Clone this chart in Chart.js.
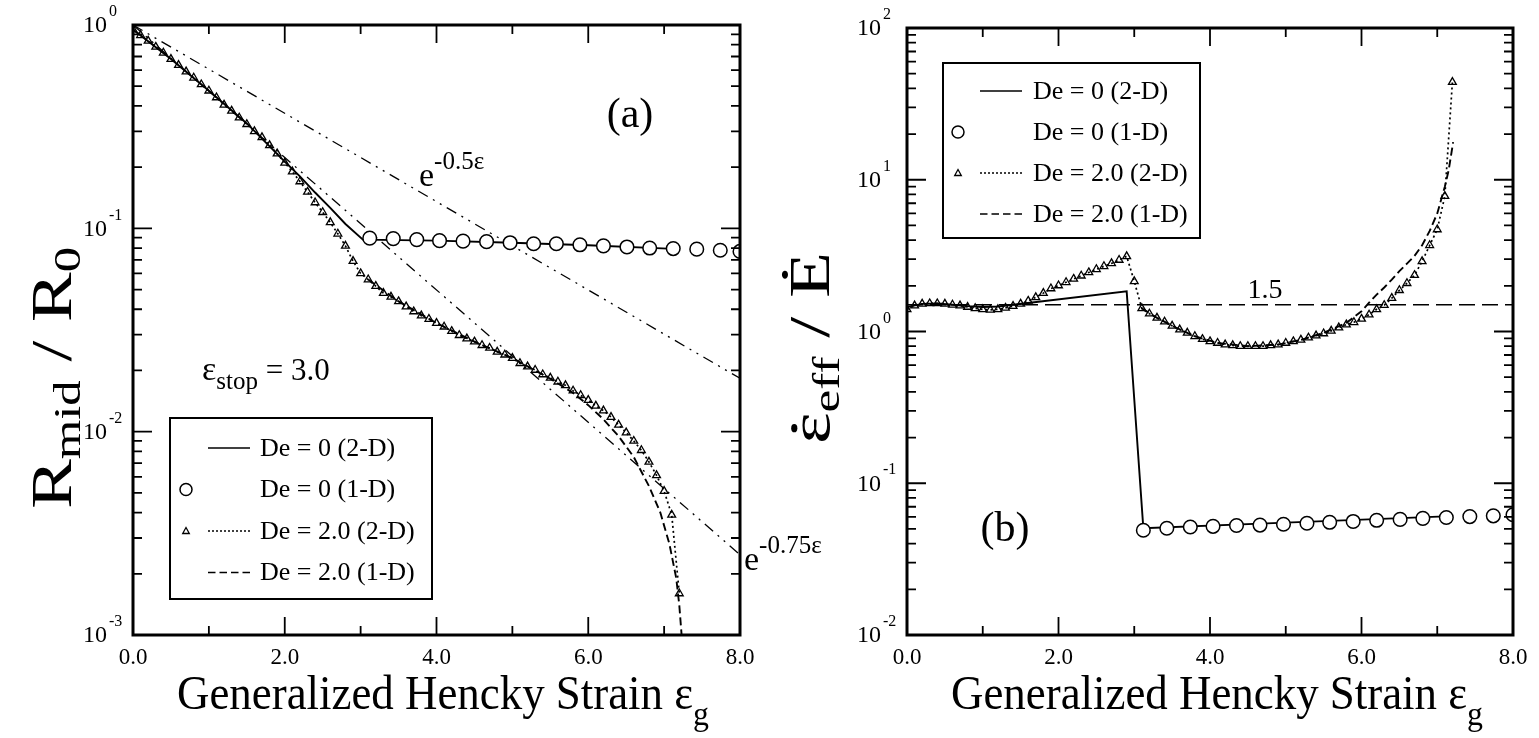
<!DOCTYPE html>
<html lang="en">
<head>
  <meta charset="UTF-8" />
  <title>Filament thinning: De = 0 and De = 2.0</title>
  <script src="https://cdn.jsdelivr.net/npm/chart.js"></script>
  <style>
    body { margin: 0; background: #fff; }
    .wrap { position: relative; width: 1539px; height: 738px; }
    canvas { position: absolute; left: 0; top: 0; }
  </style>
</head>
<body>
<div class="wrap">
  <canvas id="chartA" width="1539" height="738"></canvas>
  <canvas id="chartB" width="1539" height="738"></canvas>
</div>
<script>
  // ---- data ----
  const xTickValues = [0, 2, 4, 6, 8];
  const xTickLabels = ['0.0', '2.0', '4.0', '6.0', '8.0'];
  const decadesA = [0, -1, -2, -3];
  const decadesB = [2, 1, 0, -1, -2];
  const legendLabels = ['De = 0 (2-D)', 'De = 0 (1-D)', 'De = 2.0 (2-D)', 'De = 2.0 (1-D)'];

  // De = 2.0 (2-D) triangles, same strain grid in both panels
  const triStrain = [0.0, 0.1, 0.2, 0.3, 0.4, 0.5, 0.6, 0.7, 0.8, 0.9,
    1.0, 1.1, 1.2, 1.3, 1.4, 1.5, 1.6, 1.7, 1.8, 1.9,
    2.0, 2.1, 2.2, 2.3, 2.4, 2.5, 2.6, 2.7, 2.8, 2.9,
    3.0, 3.1, 3.2, 3.3, 3.4, 3.5, 3.6, 3.7, 3.8, 3.9,
    4.0, 4.1, 4.2, 4.3, 4.4, 4.5, 4.6, 4.7, 4.8, 4.9,
    5.0, 5.1, 5.2, 5.3, 5.4, 5.5, 5.6, 5.7, 5.8, 5.9,
    6.0, 6.1, 6.2, 6.3, 6.4, 6.5, 6.6, 6.7, 6.8, 6.9,
    7.0, 7.1, 7.2];
  const triRadius = [0.95, 0.89, 0.835, 0.78, 0.73, 0.68, 0.635, 0.59, 0.55, 0.51,
    0.475, 0.44, 0.405, 0.378, 0.35, 0.325, 0.30, 0.28, 0.256, 0.233,
    0.21, 0.19, 0.17, 0.151, 0.134, 0.12, 0.107, 0.094, 0.082, 0.069,
    0.060, 0.056, 0.052, 0.048, 0.046, 0.0437, 0.0412, 0.039, 0.0372, 0.0358,
    0.0342, 0.0328, 0.0312, 0.0298, 0.0287, 0.0277, 0.0266, 0.0258, 0.0247, 0.0239,
    0.023, 0.0217, 0.0209, 0.0201, 0.0191, 0.0184, 0.0176, 0.0169, 0.0159, 0.0151,
    0.0143, 0.0134, 0.0127, 0.0118, 0.0108, 0.0099, 0.009, 0.0081, 0.0071, 0.0061,
    0.0051, 0.0039, 0.0016];
  const triRate = [1.40, 1.48, 1.52, 1.53, 1.53, 1.52, 1.50, 1.48, 1.45, 1.42,
    1.40, 1.39, 1.40, 1.43, 1.47, 1.52, 1.59, 1.68, 1.79, 1.92,
    2.01, 2.11, 2.22, 2.33, 2.45, 2.57, 2.69, 2.81, 2.96, 3.13,
    2.14, 1.42, 1.31, 1.23, 1.16, 1.09, 1.03, 0.98, 0.93, 0.89,
    0.86, 0.84, 0.82, 0.81, 0.80, 0.80, 0.80, 0.80, 0.81, 0.82,
    0.84, 0.86, 0.88, 0.91, 0.94, 0.97, 1.01, 1.06, 1.11, 1.15,
    1.21, 1.29, 1.40, 1.49, 1.66, 1.87, 2.08, 2.35, 2.9, 3.7,
    4.7, 7.8, 44];

  // De = 0 (1-D) circles
  const circStrain = [3.12, 3.43, 3.74, 4.04, 4.35, 4.66, 4.97, 5.28, 5.58, 5.89, 6.20, 6.51, 6.81, 7.12, 7.43, 7.74, 8.0];
  const circRadius = [0.0895, 0.089, 0.088, 0.087, 0.0865, 0.086, 0.085, 0.084, 0.084, 0.083, 0.082, 0.081, 0.080, 0.0795, 0.079, 0.078, 0.077];
  const circRate = [0.049, 0.0505, 0.0515, 0.052, 0.0527, 0.053, 0.0537, 0.0545, 0.0553, 0.056, 0.057, 0.0578, 0.0587, 0.0595, 0.0603, 0.061, 0.062];

  // De = 0 (2-D) solid lines
  const solidStrainA = [0, 0.5, 1.0, 1.5, 2.0, 2.2, 2.4, 2.6, 2.8, 3.03, 4.0, 5.0, 6.0, 7.05];
  const solidRadius = [0.95, 0.68, 0.475, 0.328, 0.213, 0.18, 0.15, 0.126, 0.105, 0.088, 0.087, 0.085, 0.0825, 0.0795];
  const solidStrainB = [0, 0.2, 0.4, 0.6, 0.8, 1.0, 1.2, 1.4, 2.9, 3.12, 5.0, 7.1];
  const solidRate = [1.45, 1.52, 1.53, 1.50, 1.47, 1.45, 1.46, 1.50, 1.84, 0.0505, 0.055, 0.0605];

  // De = 2.0 (1-D) dashed lines
  const dashStrainA = [3.1, 3.5, 4.0, 4.5, 5.0, 5.5, 5.8, 6.0, 6.2, 6.4, 6.6, 6.8, 6.95, 7.07, 7.16, 7.2, 7.24];
  const dashRadius = [0.056, 0.0437, 0.0342, 0.0277, 0.023, 0.0182, 0.0155, 0.0135, 0.0115, 0.0095, 0.0075, 0.0054, 0.0040, 0.0028, 0.0019, 0.0014, 0.0009];
  const dashStrainB = [3.1, 3.3, 3.5, 3.8, 4.1, 4.5, 4.9, 5.2, 5.5, 5.8, 6.0, 6.1, 6.2, 6.3, 6.4, 6.5, 6.6, 6.7, 6.8, 6.9, 7.0, 7.1, 7.15, 7.21];
  const dashRate = [1.42, 1.23, 1.09, 0.93, 0.84, 0.80, 0.82, 0.88, 0.98, 1.14, 1.36, 1.55, 1.75, 1.95, 2.2, 2.5, 2.8, 3.15, 3.7, 4.6, 6.0, 9.0, 11.5, 17.7];

  // reference lines (end points)
  const refStrain = [0, 8];
  const expHalf = [1, 0.0183];
  const expThreeQuarter = [1, 0.00248];
  const rateRef = [1.5, 1.5];

  const FONT = '"Liberation Serif", "Times New Roman", serif';

  function series(label, xs, ys, style) {
    return Object.assign({
      label: label,
      data: xs.map((x, i) => ({ x: x, y: ys[i] })),
      borderColor: '#000',
      backgroundColor: '#fff',
      borderWidth: 1.7,
      pointRadius: 0,
      fill: false,
      tension: 0
    }, style);
  }

  // text made of pieces: [text, size, dy, dot]
  function rich(ctx, parts, x, y, opt) {
    opt = opt || {};
    let w = 0;
    parts.forEach(p => { ctx.font = p[1] + 'px ' + FONT; w += ctx.measureText(p[0]).width; });
    const sx = opt.width ? opt.width / w : 1;
    ctx.save();
    ctx.translate(x, y);
    if (opt.rotate) ctx.rotate(opt.rotate);
    ctx.scale(sx, 1);
    let cx = opt.align === 'center' ? -w / 2 : (opt.align === 'right' ? -w : 0);
    ctx.textAlign = 'left';
    ctx.textBaseline = 'alphabetic';
    ctx.fillStyle = '#000';
    parts.forEach(p => {
      ctx.font = p[1] + 'px ' + FONT;
      const pw = ctx.measureText(p[0]).width;
      ctx.fillText(p[0], cx, p[2] || 0);
      if (p[3]) {
        ctx.beginPath();
        ctx.arc(cx + pw * 0.5, (p[2] || 0) - p[1] * 0.62, p[1] * 0.055, 0, Math.PI * 2);
        ctx.fill();
      }
      cx += pw;
    });
    ctx.restore();
  }

  function drawFrame(chart, decades) {
    const { ctx, chartArea: a } = chart;
    const xs = chart.scales.x, ys = chart.scales.y;
    ctx.save();
    ctx.strokeStyle = '#000';
    ctx.fillStyle = '#000';
    ctx.lineWidth = 1.8;
    ctx.beginPath();
    for (let v = 0; v <= 8; v++) {
      const px = xs.getPixelForValue(v);
      const len = v % 2 === 0 ? 18 : 9;
      ctx.moveTo(px, a.bottom); ctx.lineTo(px, a.bottom - len);
      ctx.moveTo(px, a.top); ctx.lineTo(px, a.top + len);
    }
    for (let i = 0; i < decades.length - 1; i++) {
      const base = Math.pow(10, decades[i + 1]);
      for (let m = 1; m <= 10; m++) {
        const py = ys.getPixelForValue(m * base);
        const len = (m === 1 || m === 10) ? 19 : 9;
        ctx.moveTo(a.left, py); ctx.lineTo(a.left + len, py);
        ctx.moveTo(a.right, py); ctx.lineTo(a.right - len, py);
      }
    }
    ctx.stroke();
    ctx.lineWidth = 3;
    ctx.strokeRect(a.left, a.top, a.right - a.left, a.bottom - a.top);

    ctx.font = '23px ' + FONT;
    ctx.textAlign = 'center';
    ctx.textBaseline = 'middle';
    xTickValues.forEach((v, i) => ctx.fillText(xTickLabels[i], xs.getPixelForValue(v), a.bottom + 23));
    decades.forEach(d => {
      const py = ys.getPixelForValue(Math.pow(10, d));
      ctx.font = '24px ' + FONT;
      ctx.textAlign = 'right';
      ctx.fillText('10', a.left - 26, py + 1);
      ctx.font = '16px ' + FONT;
      ctx.textAlign = 'left';
      ctx.fillText(String(d), a.left - 24, py - 13);
    });
    ctx.restore();
  }

  function drawLegend(ctx, box, rows, mx, l1, l2, tx) {
    ctx.save();
    ctx.strokeStyle = '#000';
    ctx.fillStyle = '#000';
    ctx.lineWidth = 2;
    ctx.strokeRect(box[0], box[1], box[2], box[3]);
    ctx.lineWidth = 1.7;
    // solid
    ctx.beginPath(); ctx.moveTo(l1, rows[0]); ctx.lineTo(l2, rows[0]); ctx.stroke();
    // circle
    ctx.beginPath(); ctx.arc(mx, rows[1], 6, 0, Math.PI * 2); ctx.lineWidth = 1.5; ctx.stroke();
    // small triangle + dotted
    ctx.beginPath();
    ctx.moveTo(mx, rows[2] - 3.5); ctx.lineTo(mx + 3.3, rows[2] + 2.5); ctx.lineTo(mx - 3.3, rows[2] + 2.5); ctx.closePath();
    ctx.lineWidth = 1.3; ctx.stroke();
    ctx.lineWidth = 1.7;
    ctx.setLineDash([2, 2]);
    ctx.beginPath(); ctx.moveTo(l1, rows[2]); ctx.lineTo(l2, rows[2]); ctx.stroke();
    ctx.setLineDash([7.5, 4]);
    ctx.beginPath(); ctx.moveTo(l1, rows[3]); ctx.lineTo(l2 + 4, rows[3]); ctx.stroke();
    ctx.setLineDash([]);
    ctx.font = '26px ' + FONT;
    ctx.textAlign = 'left';
    ctx.textBaseline = 'middle';
    legendLabels.forEach((t, i) => ctx.fillText(t, tx, rows[i] + 1));
    ctx.restore();
  }

  const panelA = {
    id: 'panelA',
    afterDatasetsDraw(chart) {
      const ctx = chart.ctx;
      drawFrame(chart, decadesA);
      drawLegend(ctx, [170, 418, 262, 181], [448, 489.5, 531, 572.5], 186, 208, 250, 260);
      ctx.save();
      ctx.fillStyle = '#000';
      ctx.font = '42px ' + FONT;
      ctx.textAlign = 'center';
      ctx.fillText('(a)', 630, 127);
      ctx.restore();
      rich(ctx, [['e', 34, 0], ['-0.5\u03b5', 25, -17]], 419, 186);
      rich(ctx, [['e', 34, 0], ['-0.75\u03b5', 25, -17]], 744, 570);
      rich(ctx, [['\u03b5', 34, 0], ['stop', 25, 9], [' = 3.0', 31, 0]], 202, 380);
      rich(ctx, [['Generalized Hencky Strain \u03b5', 48, 0], ['g', 34, 16]], 177, 709, { width: 532 });
      rich(ctx, [['R', 56, 0], ['mid', 38, 9], [' / ', 56, 0], ['R', 56, 0], ['0', 38, 9]],
        71, 378, { rotate: -Math.PI / 2, align: 'center', width: 262 });
    }
  };

  const panelB = {
    id: 'panelB',
    afterDatasetsDraw(chart) {
      const ctx = chart.ctx;
      drawFrame(chart, decadesB);
      drawLegend(ctx, [943, 63, 257, 175], [91, 132, 173, 214], 958, 980, 1022, 1033);
      ctx.save();
      ctx.fillStyle = '#000';
      ctx.font = '42px ' + FONT;
      ctx.textAlign = 'center';
      ctx.fillText('(b)', 1005, 541);
      ctx.font = '28px ' + FONT;
      ctx.fillText('1.5', 1265, 298);
      ctx.restore();
      rich(ctx, [['Generalized Hencky Strain \u03b5', 48, 0], ['g', 34, 16]], 951, 709, { width: 532 });
      rich(ctx, [['\u03b5', 56, 0, true], ['eff', 38, 10], [' / ', 56, 0], ['\u0116', 56, 0]],
        829, 348, { rotate: -Math.PI / 2, align: 'center', width: 192 });
    }
  };

  const circleStyle = { showLine: false, pointStyle: 'circle', pointRadius: 6.8, pointBorderWidth: 1.5, pointBackgroundColor: '#fff', order: 0 };
  const triStyle = { borderDash: [2, 3], borderWidth: 1.7, pointStyle: 'triangle', pointRadius: 4.5, pointBorderWidth: 1.3, pointBackgroundColor: 'rgba(0,0,0,0)', order: 1 };
  const dashDot = { borderDash: [11, 6, 2, 6, 2, 6], borderWidth: 1.3, order: 5 };

  function baseOptions(pad, yMin, yMax) {
    return {
      responsive: false,
      animation: false,
      devicePixelRatio: 1,
      events: [],
      layout: { padding: pad },
      plugins: { legend: { display: false }, tooltip: { enabled: false } },
      scales: {
        x: { type: 'linear', min: 0, max: 8, display: false },
        y: { type: 'logarithmic', min: yMin, max: yMax, display: false }
      }
    };
  }

  new Chart(document.getElementById('chartA'), {
    type: 'line',
    data: {
      datasets: [
        series(legendLabels[1], circStrain, circRadius, circleStyle),
        series(legendLabels[2], triStrain, triRadius, triStyle),
        series(legendLabels[0], solidStrainA, solidRadius, { borderWidth: 1.9, order: 2 }),
        series(legendLabels[3], dashStrainA, dashRadius, { borderDash: [8, 4], borderWidth: 1.9, order: 3 }),
        series('e^-0.5e', refStrain, expHalf, dashDot),
        series('e^-0.75e', refStrain, expThreeQuarter, dashDot)
      ]
    },
    options: baseOptions({ left: 133, right: 1539 - 740, top: 25, bottom: 738 - 635 }, 1e-3, 1),
    plugins: [panelA]
  });

  new Chart(document.getElementById('chartB'), {
    type: 'line',
    data: {
      datasets: [
        series(legendLabels[1], circStrain, circRate, circleStyle),
        series(legendLabels[2], triStrain, triRate, triStyle),
        series(legendLabels[0], solidStrainB, solidRate, { borderWidth: 1.9, order: 2 }),
        series(legendLabels[3], dashStrainB, dashRate, { borderDash: [8, 4], borderWidth: 1.9, order: 3 }),
        series('1.5', refStrain, rateRef, { borderDash: [16, 7], borderWidth: 1.4, order: 5 })
      ]
    },
    options: baseOptions({ left: 907, right: 1539 - 1513, top: 28, bottom: 738 - 635 }, 1e-2, 1e2),
    plugins: [panelB]
  });
</script>
</body>
</html>
